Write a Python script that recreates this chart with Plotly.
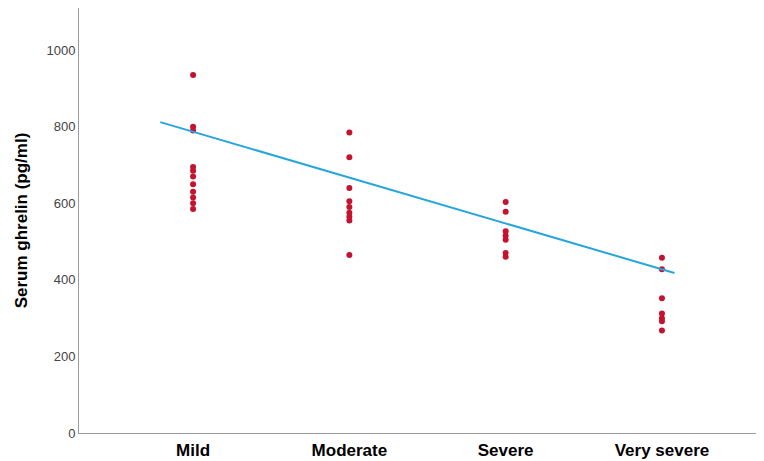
import plotly.graph_objects as go

categories = ["Mild", "Moderate", "Severe", "Very severe"]

mild = [935, 800, 790, 695, 685, 670, 650, 630, 615, 600, 585]
moderate = [785, 720, 640, 605, 590, 575, 565, 555, 465]
severe = [603, 578, 527, 515, 505, 470, 460]
very_severe = [458, 428, 352, 312, 300, 292, 268]

# fit line endpoints (category position, value)
fit_x = [-0.21, 3.08]
fit_y = [812, 418]

y_ticks = [0, 200, 400, 600, 800, 1000]

groups = [mild, moderate, severe, very_severe]
xs, ys = [], []
for i, g in enumerate(groups):
    xs += [i] * len(g)
    ys += g

fig = go.Figure()
fig.add_trace(go.Scatter(x=xs, y=ys, mode="markers",
                         marker=dict(color="#c4122f", size=6, line=dict(width=0))))
fig.add_trace(go.Scatter(x=fit_x, y=fit_y, mode="lines",
                         line=dict(color="#27a6db", width=2), hoverinfo="skip"))

# page body adds an 8px offset, so the figure is sized to fit the 764x461 window
fig.update_layout(
    width=756, height=453,
    margin=dict(l=71, r=0, t=0, b=28),
    paper_bgcolor="white", plot_bgcolor="white",
    showlegend=False,
    font=dict(family="Liberation Sans, Arial, sans-serif"),
)
fig.update_xaxes(
    range=[-0.73, 3.653], automargin=False,
    tickmode="array", tickvals=list(range(len(categories))), ticktext=categories,
    tickfont=dict(size=17, color="black", weight="bold"),
    showgrid=False, zeroline=False,
    showline=True, linecolor="#9a9a9a", linewidth=1,
    ticks="", ticklabelstandoff=2,
)
fig.update_yaxes(
    range=[0, 1110], automargin=False,
    tickmode="array", tickvals=y_ticks,
    tickfont=dict(size=13, color="#444444"),
    showgrid=False, zeroline=False,
    showline=True, linecolor="#9a9a9a", linewidth=1,
    ticks="", ticklabelstandoff=0,
    title=dict(text="Serum ghrelin (pg/ml)", font=dict(size=17, color="black", weight="bold"), standoff=14),
)

fig.write_html("out.html")
